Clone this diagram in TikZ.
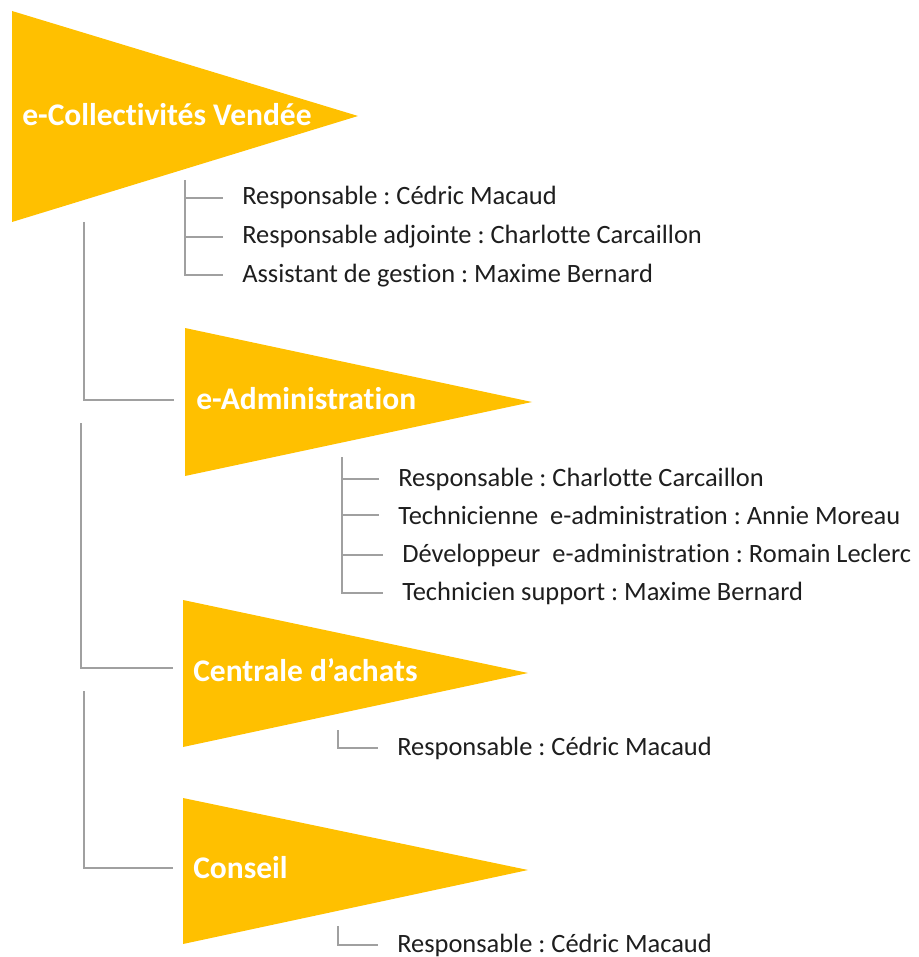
\documentclass[tikz,border=0pt]{standalone}
\usepackage{fontspec}
\setmainfont{Carlito}[Ligatures={NoCommon}]
\frenchspacing

\definecolor{jaune}{RGB}{255,192,0}
\definecolor{trait}{RGB}{160,160,160}
\definecolor{texte}{RGB}{30,30,30}

\tikzset{
  pole/.style={fill=jaune},
  titre/.style={anchor=base west, inner sep=0pt, text=white, font=\bfseries\fontsize{22.4}{26}\selectfont},
  membre/.style={anchor=base west, inner xsep=4.75mm, inner ysep=0pt, text=texte, font=\fontsize{18.8}{22}\selectfont},
  branche/.style={draw=trait, line width=0.6mm},
}

\begin{document}
\begin{tikzpicture}[x=0.25mm, y=-0.25mm]

\useasboundingbox (0,0) rectangle (918,957);

% poles
\fill[pole] (12,11) -- (358,116) -- (12,222) -- cycle;
\fill[pole] (185,328) -- (532,402) -- (185,476) -- cycle;
\fill[pole] (183,600) -- (528,673) -- (183,747) -- cycle;
\fill[pole] (183,798) -- (528,870) -- (183,944) -- cycle;

\node[titre] (ecv) at (22,126) {e-Collectivités Vendée};
\node[titre] (eadm) at (196,409) {e-Administration};
\node[titre] (cach) at (193,681) {Centrale d’achats};
\node[titre] (cons) at (193,878) {Conseil};

% liaisons entre poles
\coordinate (b1) at (84,222);
\coordinate (g2) at (174,400);
\draw[branche] (b1) |- (g2);

\coordinate (b2) at (81,423);
\coordinate (g3) at (173,668);
\draw[branche] (b2) |- (g3);

\coordinate (b3) at (84,691);
\coordinate (g4) at (173,868);
\draw[branche] (b3) |- (g4);

% e-Collectivites Vendee
\node[membre] (r11) at (223,205) {Responsable : Cédric Macaud};
\node[membre] (r12) at (223,244) {Responsable adjointe : Charlotte Carcaillon};
\node[membre] (r13) at (223,282) {Assistant de gestion : Maxime Bernard};
\coordinate (v1) at (185,180);
\draw[branche] (v1) |- (r13.west);
\draw[branche] (v1 |- r11.west) -- (r11.west);
\draw[branche] (v1 |- r12.west) -- (r12.west);

% e-Administration
\node[membre] (r21) at (379,486) {Responsable : Charlotte Carcaillon};
\node[membre] (r22) at (379,524) {Technicienne~ e-administration : Annie Moreau};
\node[membre] (r23) at (383,562) {Développeur~ e-administration : Romain Leclerc};
\node[membre] (r24) at (383,600) {Technicien support : Maxime Bernard};
\coordinate (v2) at (342,457);
\draw[branche] (v2) |- (r24.west);
\draw[branche] (v2 |- r21.west) -- (r21.west);
\draw[branche] (v2 |- r22.west) -- (r22.west);
\draw[branche] (v2 |- r23.west) -- (r23.west);

% Centrale d'achats
\node[membre] (r31) at (378,755) {Responsable : Cédric Macaud};
\coordinate (v3) at (338,730);
\draw[branche] (v3) |- (r31.west);

% Conseil
\node[membre] (r41) at (378,952) {Responsable : Cédric Macaud};
\coordinate (v4) at (338,926);
\draw[branche] (v4) |- (r41.west);

\end{tikzpicture}
\end{document}
